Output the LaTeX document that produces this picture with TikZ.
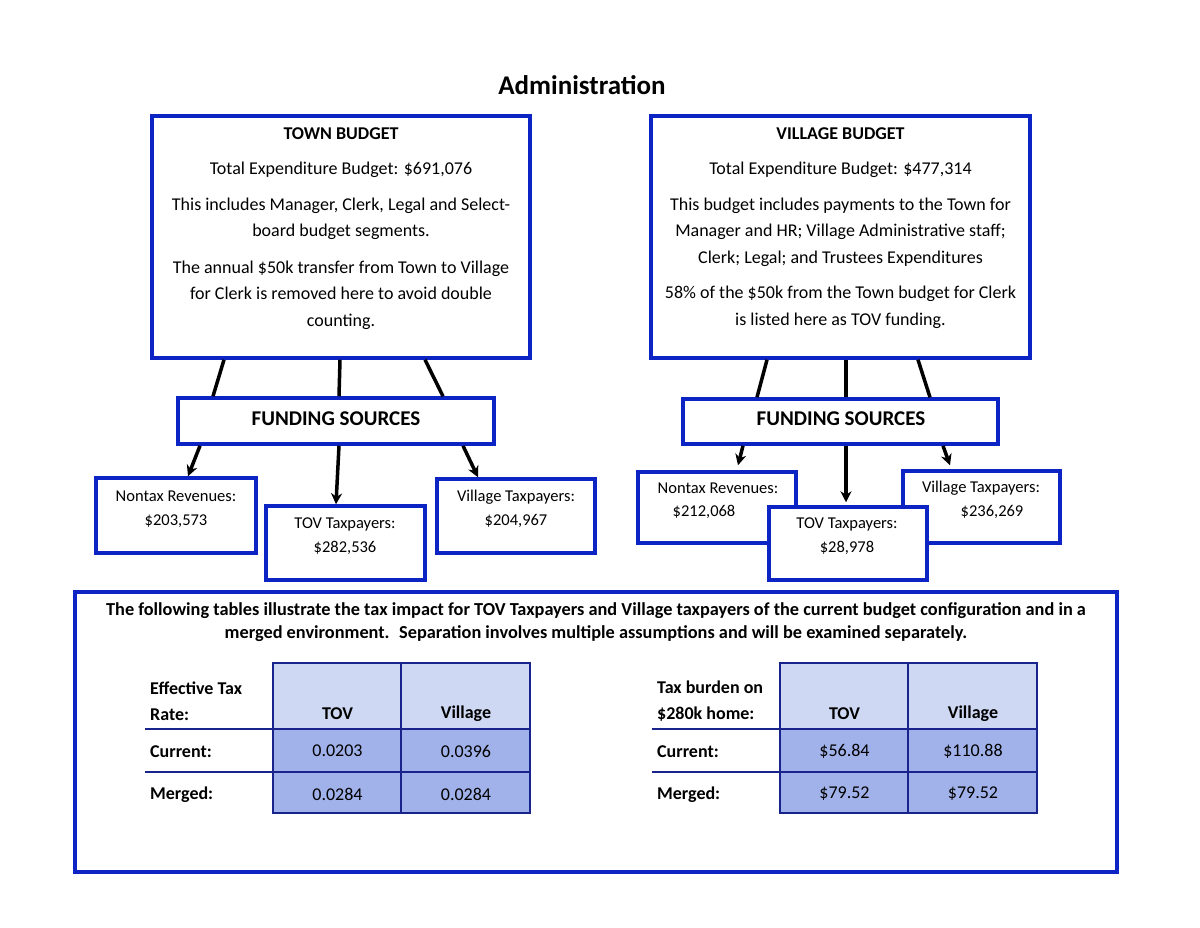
\documentclass[tikz,border=0pt]{standalone}
\usepackage{fontspec}
\setmainfont{Carlito}
\usetikzlibrary{arrows.meta,calc,positioning}
\usepackage{xcolor}
\definecolor{boxblue}{RGB}{12,36,196}
\definecolor{gridblue}{RGB}{24,36,140}
\definecolor{headfill}{RGB}{206,216,243}
\definecolor{cellfill}{RGB}{160,178,233}

\begin{document}
\begin{tikzpicture}[x=1pt,y=-1pt,>={Stealth[length=11pt,width=11pt]},
  bbox/.style={draw=boxblue, line width=3.5pt, fill=white, inner sep=0pt},
  link/.style={line width=3.5pt},
  grid/.style={draw=gridblue, line width=2pt},
  title/.style={font=\fontsize{27}{32}\selectfont\bfseries},
  head/.style={font=\fontsize{18}{26}\selectfont\bfseries},
  body/.style={font=\fontsize{18}{26.5}\selectfont, align=center},
  fund/.style={font=\fontsize{21}{25}\selectfont\bfseries},
  small/.style={font=\fontsize{16.5}{24}\selectfont, align=center},
  note/.style={font=\fontsize{18.3}{23}\selectfont\bfseries, align=center},
  lab/.style={font=\fontsize{18}{26}\selectfont\bfseries, anchor=west, align=left, inner sep=0pt},
  th/.style={font=\fontsize{18}{22}\selectfont\bfseries},
  td/.style={font=\fontsize{18}{22}\selectfont}]
  \useasboundingbox[fill=white] (0,0) rectangle (1200,927);

  \node[title] (ttl) at (582,85) {Administration};

  % town side
  \node[bbox, minimum width=378pt, minimum height=242pt] (town) at (341,237) {};
  \node[head] (townhd) at (341,134) {TOWN BUDGET};
  \node[body] (towntot) at (341,170) {Total Expenditure Budget: \$691,076};
  \node[body] (towninc) at (341,219) {This includes Manager, Clerk, Legal and Select-\\board budget segments.};
  \node[body] (townxfer) at (341,295) {The annual \$50k transfer from Town to Village\\for Clerk is removed here to avoid double\\counting.};

  \node[bbox, minimum width=316pt, minimum height=46pt] (fundT) at (336,421) {};
  \node[fund] (fundTtx) at (336,419) {FUNDING SOURCES};

  \node[bbox, minimum width=160pt, minimum height=75pt] (nontaxT) at (176,515.5) {};
  \node[small] (nontaxTtx) at (176,509) {Nontax Revenues:\\\$203,573};
  \node[bbox, minimum width=159pt, minimum height=74pt] (tovT) at (345.5,543) {};
  \node[small] (tovTtx) at (345,536.5) {TOV Taxpayers:\\\$282,536};
  \node[bbox, minimum width=158pt, minimum height=74pt] (villT) at (516,516) {};
  \node[small] (villTtx) at (516,509) {Village Taxpayers:\\\$204,967};

  \draw[link] ([xshift=-117pt]town.south) -- ([xshift=-123pt]fundT.north);
  \draw[link] ([xshift=-1pt]town.south) -- ([xshift=3pt]fundT.north);
  \draw[link] ([xshift=84pt]town.south) -- ([xshift=107pt]fundT.north);
  \draw[link,->] ([xshift=-136pt]fundT.south) -- ([xshift=12pt]nontaxT.north);
  \draw[link,->] ([xshift=3pt]fundT.south) -- ([xshift=-9.5pt]tovT.north);
  \draw[link,->] ([xshift=127pt]fundT.south) -- ([xshift=-38pt]villT.north);

  % village side
  \node[bbox, minimum width=379pt, minimum height=242pt] (vill) at (840.5,237) {};
  \node[head] (villhd) at (840.5,134) {VILLAGE BUDGET};
  \node[body] (villtot) at (840.5,170) {Total Expenditure Budget: \$477,314};
  \node[body] (villinc) at (840.5,232) {This budget includes payments to the Town for\\Manager and HR; Village Administrative staff;\\Clerk; Legal; and Trustees Expenditures};
  \node[body] (villpct) at (840.5,307.5) {58\% of the \$50k from the Town budget for Clerk\\is listed here as TOV funding.};

  \node[bbox, minimum width=315pt, minimum height=45pt] (fundV) at (840.5,421.5) {};
  \node[fund] (fundVtx) at (841,419) {FUNDING SOURCES};

  \node[bbox, minimum width=158pt, minimum height=71pt] (nontaxV) at (717,507.5) {};
  \node[small] (nontaxVtx) at (718,488) {Nontax Revenues:};
  \node[small] (nontaxVamt) at (704,512) {\$212,068};
  \node[bbox, minimum width=157pt, minimum height=72pt] (villV) at (981.5,507) {};
  \node[small] (villVtx) at (981,488) {Village Taxpayers:};
  \node[small] (villVamt) at (992,512) {\$236,269};
  \node[bbox, minimum width=158pt, minimum height=73pt] (tovV) at (848,543.5) {};
  \node[small] (tovVtx) at (847,536) {TOV Taxpayers:\\\$28,978};

  \draw[link] ([xshift=-73.5pt]vill.south) -- ([xshift=-83.5pt]fundV.north);
  \draw[link] ([xshift=5.5pt]vill.south) -- ([xshift=5.5pt]fundV.north);
  \draw[link] ([xshift=77.5pt]vill.south) -- ([xshift=89.5pt]fundV.north);
  \draw[link,->] ([xshift=-97.5pt]fundV.south) -- ([xshift=21pt,yshift=5pt]nontaxV.north);
  \draw[link,->] ([xshift=5.5pt]fundV.south) -- ([xshift=-2pt,yshift=3pt]tovV.north);
  \draw[link,->] ([xshift=102.5pt]fundV.south) -- ([xshift=-31.5pt,yshift=4pt]villV.north);

  % tax impact
  \node[bbox, minimum width=1042pt, minimum height=280pt] (impact) at (596,732) {};
  \node[note] (impacttx) at (596,622.5) {The following tables illustrate the tax impact for TOV Taxpayers and Village taxpayers of the current budget configuration and in a\\merged environment.~ Separation involves multiple assumptions and will be examined separately.};

  \foreach \t/\x/\u/\v/\p/\q in {rate/273/0.0203/0.0396/0.0284/0.0284,
                                 home/780/\$56.84/\$110.88/\$79.52/\$79.52} {
    \fill[headfill] (\x,663) rectangle +(257,66);
    \fill[cellfill] (\x,729) rectangle +(257,84);
    \draw[grid] (\x,663) rectangle +(257,150);
    \draw[grid] (\x+128,663) -- +(0,150);
    \draw[grid] (\x-128,729) -- +(385,0);
    \draw[grid] (\x-128,772) -- +(385,0);
    \node[th] (\t tov) at (\x+64.5,714) {TOV};
    \node[th] (\t vil) at (\x+193,714) {Village};
    \node[td] (\t cur1) at (\x+64.5,751) {\u};
    \node[td] (\t cur2) at (\x+193,751) {\v};
    \node[td] (\t mrg1) at (\x+64.5,794) {\p};
    \node[td] (\t mrg2) at (\x+193,794) {\q};
    \node[lab] (\t cur) at (\x-123,752) {Current:};
    \node[lab] (\t mrg) at (\x-123,795) {Merged:};
  }
  \node[lab] (ratelab) at (150,701) {Effective Tax\\Rate:};
  \node[lab] (homelab) at (657,701) {Tax burden on\\\$280k home:};
\end{tikzpicture}
\end{document}
